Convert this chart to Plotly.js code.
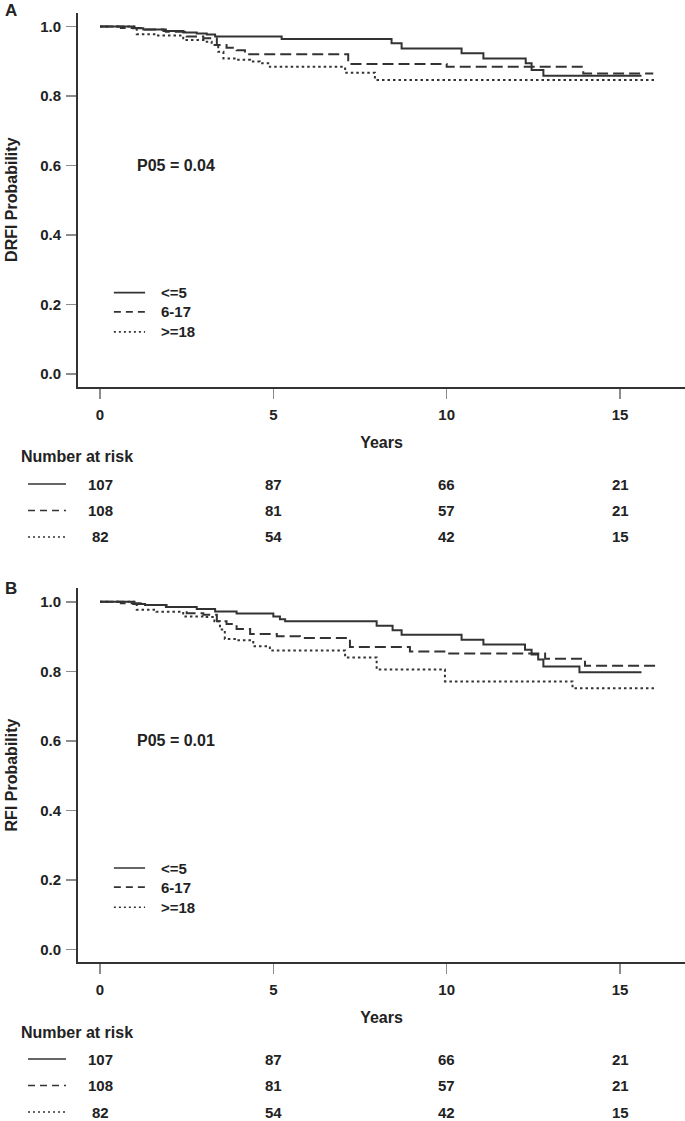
<!DOCTYPE html>
<html><head><meta charset="utf-8">
<script src="https://cdn.plot.ly/plotly-3.0.1.min.js"></script>
<style>html,body{margin:0;padding:0;background:#fff}</style>
</head><body><div id="chart" style="width:685px;height:1121px"></div>
<script>
// ---------- Data ----------
const groupNames = ['<=5', '6-17', '>=18'];

// Panel A: DRFI
const drfiTimeLE5  = [0,0.96,1.25,1.83,2.40,2.79,3.08,3.32,5.24,8.41,8.70,10.43,11.06,12.28,12.45,12.79,15.62];
const drfiSurvLE5  = [1.0,0.995,0.991,0.987,0.983,0.980,0.977,0.971,0.964,0.952,0.937,0.923,0.908,0.894,0.875,0.858,0.858];
const drfiTime6to17 = [0,0.6,1.3,1.9,2.5,2.98,3.37,3.65,3.94,4.18,7.16,10.0,13.94,15.96];
const drfiSurv6to17 = [1.0,0.996,0.991,0.985,0.971,0.966,0.947,0.939,0.932,0.920,0.892,0.884,0.865,0.865];
const drfiTimeGE18 = [0,1.06,1.63,2.4,3.03,3.22,3.41,3.56,3.94,4.33,4.61,4.9,7.07,7.93,16.0];
const drfiSurvGE18 = [1.0,0.978,0.974,0.961,0.956,0.947,0.927,0.908,0.904,0.899,0.894,0.884,0.867,0.846,0.846];

// Panel B: RFI
const rfiTimeLE5  = [0,0.96,1.3,1.92,2.79,3.32,3.94,5.0,5.19,5.34,7.98,8.44,8.70,10.43,11.06,12.26,12.45,12.64,12.79,13.83,15.62];
const rfiSurvLE5  = [1.0,0.994,0.991,0.985,0.979,0.972,0.966,0.958,0.950,0.944,0.931,0.918,0.905,0.891,0.877,0.862,0.848,0.834,0.814,0.797,0.797];
const rfiTime6to17 = [0,0.6,1.3,1.9,2.5,2.98,3.37,3.65,3.94,4.33,5.1,5.77,7.21,8.94,10.0,12.84,13.99,16.1];
const rfiSurv6to17 = [1.0,0.996,0.991,0.985,0.967,0.963,0.944,0.936,0.922,0.907,0.901,0.896,0.870,0.857,0.851,0.836,0.816,0.816];
const rfiTimeGE18 = [0,1.06,1.63,2.4,3.03,3.3,3.46,3.6,3.94,4.42,4.9,7.07,7.98,9.95,13.63,16.0];
const rfiSurvGE18 = [1.0,0.977,0.971,0.958,0.956,0.944,0.920,0.893,0.889,0.872,0.860,0.840,0.805,0.771,0.751,0.751];

// Number at risk (same for both panels)
const riskTimes = [0, 5, 10, 15];
const riskLE5   = [107, 87, 66, 21];
const risk6to17 = [108, 81, 57, 21];
const riskGE18  = [82, 54, 42, 15];

const xTicks = [0, 5, 10, 15];
const yTicks = [0, 0.2, 0.4, 0.6, 0.8, 1.0];
const yTickText = ['0.0', '0.2', '0.4', '0.6', '0.8', '1.0'];

// ---------- Styling ----------
const W = 685, H = 1121;
const FONT = 'Liberation Sans, Arial, sans-serif';
const INK = '#222';
const LINE = '#333';
const dashStyles = ['solid', '11px,5px', '2.5px,3px'];
const lineWidths = [2, 2, 2];
const keyDash = ['solid', '7px,5px', '2px,3px'];
const py = px => 1 - px / H;                 // pixel row -> paper y
const pxX = px => (px - 78) / (W - 78);      // pixel col -> paper x

function curve(t, s, i, xa, ya) {
  return {
    type: 'scatter', mode: 'lines', x: t, y: s, xaxis: xa, yaxis: ya,
    line: {shape: 'hv', color: LINE, width: lineWidths[i], dash: dashStyles[i]},
    name: groupNames[i], showlegend: false, hoverinfo: 'skip'
  };
}

const data = [
  curve(drfiTimeLE5, drfiSurvLE5, 0, 'x', 'y'),
  curve(drfiTime6to17, drfiSurv6to17, 1, 'x', 'y'),
  curve(drfiTimeGE18, drfiSurvGE18, 2, 'x', 'y'),
  curve(rfiTimeLE5, rfiSurvLE5, 0, 'x2', 'y2'),
  curve(rfiTime6to17, rfiSurv6to17, 1, 'x2', 'y2'),
  curve(rfiTimeGE18, rfiSurvGE18, 2, 'x2', 'y2')
];

const tickFont = {family: FONT, size: 15, color: INK, weight: 'bold'};
function xAxis(anchor) {
  return {
    anchor: anchor, domain: [0, 1], range: [-0.635, 16.875],
    tickvals: xTicks, ticks: 'outside', ticklen: 10, tickwidth: 1.5, tickcolor: '#8c8c8c',
    showline: true, linecolor: LINE, linewidth: 2, showgrid: false, zeroline: false,
    tickfont: tickFont, ticklabelstandoff: 3,
    title: {text: 'Years', font: {family: FONT, size: 16, color: INK, weight: 'bold'}, standoff: 15}
  };
}
function yAxis(anchor, domain, title) {
  return {
    anchor: anchor, domain: domain, range: [-0.0365, 1.0397],
    tickvals: yTicks, ticktext: yTickText, ticks: 'outside', ticklen: 10, tickwidth: 1.5, tickcolor: '#8c8c8c',
    showline: true, linecolor: LINE, linewidth: 2, showgrid: false, zeroline: false,
    tickfont: tickFont, ticklabelstandoff: 2,
    title: {text: title, font: {family: FONT, size: 16, color: INK, weight: 'bold'}, standoff: 19}
  };
}

const annotations = [];
const shapes = [];
const txt = (text, x, y, xref, yref, xanchor, size) => annotations.push({
  text: text, x: x, y: y, xref: xref, yref: yref, xanchor: xanchor, yanchor: 'middle',
  showarrow: false, font: {family: FONT, size: size || 15, color: INK, weight: 'bold'}
});

// Panel letters
txt('A', pxX(3), py(11), 'paper', 'paper', 'left', 17);
txt('B', pxX(3), py(588), 'paper', 'paper', 'left', 17);

// P-values
txt('P05 = 0.04', 1.0, 0.6, 'x', 'y', 'left', 16);
txt('P05 = 0.01', 1.0, 0.6, 'x2', 'y2', 'left', 16);

// In-plot legends (key lines + labels)
const legendRows = [0.234, 0.179, 0.121];
[['x', 'y'], ['x2', 'y2']].forEach(([xa, ya]) => {
  legendRows.forEach((yv, i) => {
    shapes.push({type: 'line', xref: xa, yref: ya, x0: 0.40, x1: 1.30, y0: yv, y1: yv,
      line: {color: LINE, width: 1.7, dash: keyDash[i]}});
    txt(groupNames[i], 1.70, yv, xa, ya, 'left', 15);
  });
});

// Number-at-risk tables
const riskRows = [riskLE5, risk6to17, riskGE18];
[['x', 387], ['x2', 962]].forEach(([xa, axisPx]) => {
  txt('Number at risk', pxX(19), py(axisPx + 70), 'paper', 'paper', 'left', 16);
  riskRows.forEach((row, i) => {
    const rowPx = axisPx + 97 + i * 26.5;
    shapes.push({type: 'line', xref: 'paper', yref: 'paper', x0: pxX(28), x1: pxX(66),
      y0: py(rowPx), y1: py(rowPx),
      line: {color: LINE, width: 1.7, dash: keyDash[i]}});
    row.forEach((n, j) => txt(String(n), riskTimes[j], py(rowPx), xa, 'paper', 'center', 15));
  });
});

const layout = {
  width: W, height: H,
  margin: {l: 78, r: 0, t: 0, b: 0},
  paper_bgcolor: '#fff', plot_bgcolor: '#fff',
  font: {family: FONT, color: INK},
  showlegend: false,
  xaxis: xAxis('y'),
  yaxis: yAxis('x', [py(386.7), py(12.7)], 'DRFI Probability'),
  xaxis2: xAxis('y2'),
  yaxis2: yAxis('x2', [py(962), py(588)], 'RFI Probability'),
  annotations: annotations,
  shapes: shapes
};

Plotly.newPlot('chart', data, layout, {displayModeBar: false, staticPlot: true});
</script></body></html>
